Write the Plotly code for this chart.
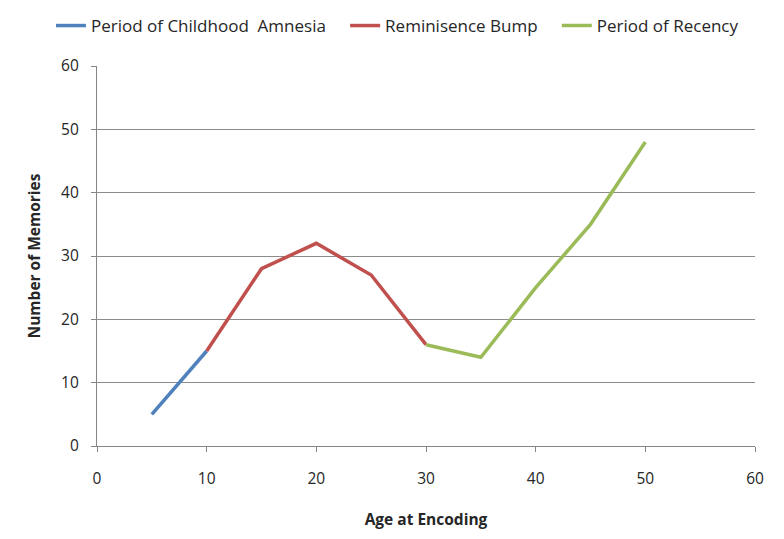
import plotly.graph_objects as go

amnesia_x = [5, 10]
amnesia_y = [5, 15]
bump_x = [10, 15, 20, 25, 30]
bump_y = [15, 28, 32, 27, 16]
recency_x = [30, 35, 40, 45, 50]
recency_y = [16, 14, 25, 35, 48]

series = [
    ("Period of Childhood  Amnesia", amnesia_x, amnesia_y, "#4F81BD", "legend", 0.0548),
    ("Reminisence Bump", bump_x, bump_y, "#C0504D", "legend2", 0.430),
    ("Period of Recency", recency_x, recency_y, "#9BBB59", "legend3", 0.700),
]

fig = go.Figure()
font_family = "Open Sans, Liberation Sans, sans-serif"
legends = {}
for name, xs, ys, col, lg, lx in series:
    fig.add_trace(go.Scatter(x=xs, y=ys, mode="lines", name=name, legend=lg,
                             line=dict(color=col, width=3.5)))
    legends[lg] = dict(orientation="h", x=lx, xanchor="left", xref="container",
                       y=0.9666, yanchor="middle", yref="container",
                       font=dict(size=17, color="#262626"),
                       bgcolor="rgba(0,0,0,0)", borderwidth=0)

fig.update_layout(
    width=784, height=539,
    margin=dict(l=89, r=37, t=58, b=101, autoexpand=False),
    paper_bgcolor="white", plot_bgcolor="white",
    font=dict(family=font_family, size=15, color="#262626"),
    showlegend=True,
    xaxis=dict(range=[0, 60], dtick=10, tick0=0, showgrid=False, zeroline=False,
               showline=True, linecolor="#868686", linewidth=1.2,
               ticks="outside", ticklen=5, tickcolor="#868686",
               tickfont=dict(size=15.5), ticklabelstandoff=13,
               title=dict(text="<b>Age at Encoding</b>", font=dict(size=15.5), standoff=26)),
    yaxis=dict(range=[0, 60], dtick=10, tick0=0, showgrid=True, gridcolor="#8c8c8c",
               gridwidth=1.2, zeroline=False,
               showline=True, linecolor="#868686", linewidth=1.2,
               ticks="outside", ticklen=5, tickcolor="#868686",
               tickfont=dict(size=15.5), ticklabelstandoff=9,
               title=dict(text="<b>Number of Memories</b>", font=dict(size=15.5), standoff=16)),
    **legends,
)

fig.write_html("out.html")
